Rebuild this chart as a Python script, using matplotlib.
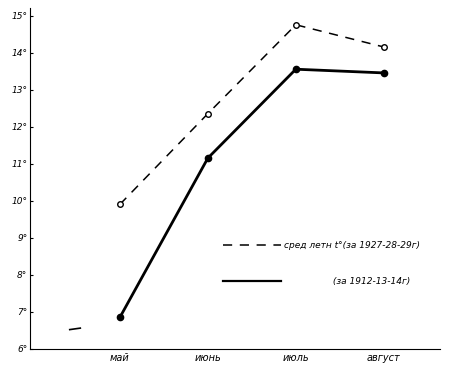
import matplotlib
matplotlib.use('Agg')
from matplotlib import pyplot as plt
from matplotlib.lines import Line2D

months = ["май", "июнь", "июль", "август"]
t_1927 = [9.9, 12.35, 14.75, 14.15]
t_1912 = [6.85, 11.15, 13.55, 13.45]
y_ticks = [6, 7, 8, 9, 10, 11, 12, 13, 14, 15]
label_1927 = "сред летн t°(за 1927-28-29г)"
label_1912 = "                 (за 1912-13-14г)"

fig = plt.figure(figsize=(4.5, 3.68), dpi=100)
ax = fig.add_axes([0.067, 0.052, 0.911, 0.926])

x = list(range(len(months)))
ax.plot(x, t_1927, color="black", linestyle=(0, (6, 5)), linewidth=1.1,
        marker="o", markersize=4, markerfacecolor="white", markeredgewidth=1)
ax.plot(x, t_1912, color="black", linewidth=2, marker="o", markersize=4.5)
# stray mark near the origin
ax.plot([-0.57, -0.45], [6.52, 6.56], color="black", linewidth=1.2)

ax.set_xlim(-1.02, 3.64)
ax.set_ylim(6, 15.2)
ax.set_xticks(x)
ax.set_xticklabels(months, fontstyle="italic", fontsize=7)
ax.set_yticks(y_ticks)
ax.set_yticklabels(["{}°".format(t) for t in y_ticks], fontstyle="italic", fontsize=6.5)
ax.tick_params(axis="x", length=0, pad=3)
ax.tick_params(axis="y", length=2, direction="in", pad=2)
for s in ["top", "right"]:
    ax.spines[s].set_visible(False)

handles = [Line2D([], [], color="black", linestyle=(0, (6, 5)), linewidth=1.1),
           Line2D([], [], color="black", linewidth=1.6)]
ax.legend(handles, [label_1927, label_1912], loc="upper left",
          bbox_to_anchor=(0.45, 0.34), frameon=False,
          handlelength=6.5, labelspacing=3.0, handletextpad=0.3,
          prop={"style": "italic", "size": 6.5})

plt.savefig("out.png", dpi=100)
